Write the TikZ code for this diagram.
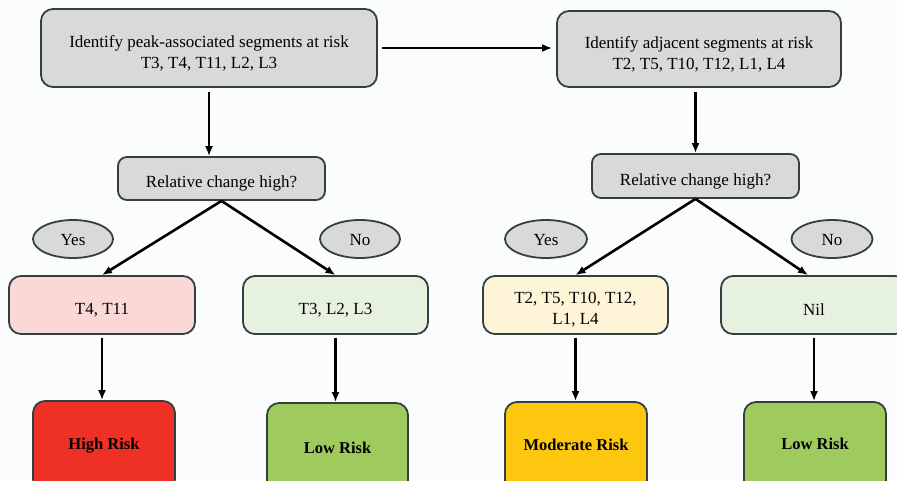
\documentclass[tikz,border=0pt]{standalone}
\usepackage{fontspec}
\setmainfont{Liberation Serif}
\usetikzlibrary{arrows.meta,shapes.geometric}
\definecolor{bg}{HTML}{FBFCFD}
\definecolor{edgec}{HTML}{34403F}
\definecolor{grayf}{HTML}{D9D9D9}
\definecolor{pinkf}{HTML}{F9D8D6}
\definecolor{lgreenf}{HTML}{E7F1DF}
\definecolor{lyellowf}{HTML}{FEF5D8}
\definecolor{redf}{HTML}{EE3124}
\definecolor{greenf}{HTML}{9FCB5E}
\definecolor{orangef}{HTML}{FDC60F}
\tikzset{
  box/.style={draw=edgec, line width=1.8pt, rounded corners=12pt, inner sep=0pt},
  oval/.style={draw=edgec, line width=1.8pt, ellipse, fill=grayf, inner sep=0pt},
  txt/.style={align=center, inner sep=0pt, font=\fontsize{17}{21}\selectfont},
  risktxt/.style={align=center, inner sep=0pt, font=\fontsize{16.5}{20}\selectfont\bfseries},
  arr/.style={line width=2.6pt, -{Latex[length=10pt,width=8pt]}},
}
\begin{document}
\begin{tikzpicture}[x=1pt,y=-1pt]
\fill[bg] (0,0) rectangle (897,480);
\useasboundingbox (0,0) rectangle (897,480);
\clip (0,0) rectangle (897,480);
% top boxes
\node[box, fill=grayf, minimum width=336pt, minimum height=78pt] (A) at (209,48) {};
\node[txt] (At) at ([yshift=-5.5pt]A.center) {Identify peak-associated segments at risk\\T3, T4, T11, L2, L3};
\node[box, fill=grayf, minimum width=284pt, minimum height=76pt] (B) at (699,49) {};
\node[txt] (Bt) at ([yshift=-5.5pt]B.center) {Identify adjacent segments at risk\\T2, T5, T10, T12, L1, L4};
% decisions
\node[box, fill=grayf, rounded corners=9pt, minimum width=207pt, minimum height=43pt] (D1) at (221.5,178.5) {};
\node[txt] (D1t) at ([yshift=-5pt]D1.center) {Relative change high?};
\node[box, fill=grayf, rounded corners=9pt, minimum width=207pt, minimum height=44pt] (D2) at (695.5,176) {};
\node[txt] (D2t) at ([yshift=-5pt]D2.center) {Relative change high?};
% ovals
\node[oval, minimum width=80pt, minimum height=38pt] (Y1) at (73,239) {};
\node[txt] (Y1t) at ([yshift=-1pt]Y1.center) {Yes};
\node[oval, minimum width=80pt, minimum height=38pt] (N1) at (360,239) {};
\node[txt] (N1t) at ([yshift=-1pt]N1.center) {No};
\node[oval, minimum width=82pt, minimum height=38pt] (Y2) at (546,239) {};
\node[txt] (Y2t) at ([yshift=-1pt]Y2.center) {Yes};
\node[oval, minimum width=81pt, minimum height=38pt] (N2) at (832,239) {};
\node[txt] (N2t) at ([yshift=-1pt]N2.center) {No};
% third row
\node[box, fill=pinkf, minimum width=186pt, minimum height=58pt] (P1) at (102,305) {};
\node[txt] (P1t) at ([yshift=-5pt]P1.center) {T4, T11};
\node[box, fill=lgreenf, minimum width=185pt, minimum height=58pt] (P2) at (335.5,305) {};
\node[txt] (P2t) at ([yshift=-5pt]P2.center) {T3, L2, L3};
\node[box, fill=lyellowf, minimum width=185pt, minimum height=58pt] (P3) at (575.5,305) {};
\node[txt] (P3t) at ([yshift=-4.5pt]P3.center) {T2, T5, T10, T12,\\L1, L4};
\node[box, fill=lgreenf, minimum width=186pt, minimum height=58pt] (P4) at (814,305) {};
\node[txt] (P4t) at ([yshift=-5pt]P4.center) {Nil};
% risk boxes
\node[box, fill=redf, minimum width=142pt, minimum height=90pt] (R1) at (104,446) {};
\node[risktxt] (R1t) at (104,446) {High Risk};
\node[box, fill=greenf, minimum width=141pt, minimum height=90pt] (R2) at (337.5,448) {};
\node[risktxt] (R2t) at (337.5,448) {Low Risk};
\node[box, fill=orangef, minimum width=142pt, minimum height=90pt] (R3) at (576,447) {};
\node[risktxt] (R3t) at (576,445) {Moderate Risk};
\node[box, fill=greenf, minimum width=142pt, minimum height=90pt] (R4) at (815,447) {};
\node[risktxt] (R4t) at (815,444) {Low Risk};
% connectors
\draw[arr] ([xshift=4pt]A.east) -- ([xshift=-4pt]A.east -| B.west);
\draw[arr] ([yshift=-4pt]A.south) -- (A.south |- D1.north);
\draw[arr] ([yshift=-4pt]B.south -| D2.north) -- (D2.north);
\draw[arr] (D1.south) -- (P1.north);
\draw[arr] (D1.south) -- (P2.north);
\draw[arr] (D2.south) -- (P3.north);
\draw[arr] (D2.south) -- ([xshift=-6pt]P4.north);
\draw[arr] ([yshift=-3pt]P1.south) -- (P1.south |- R1.north);
\draw[arr] ([yshift=-3pt]P2.south) -- (P2.south |- R2.north);
\draw[arr] ([yshift=-3pt]P3.south) -- (P3.south |- R3.north);
\draw[arr] ([yshift=-3pt]P4.south) -- (P4.south |- R4.north);
\end{tikzpicture}
\end{document}
